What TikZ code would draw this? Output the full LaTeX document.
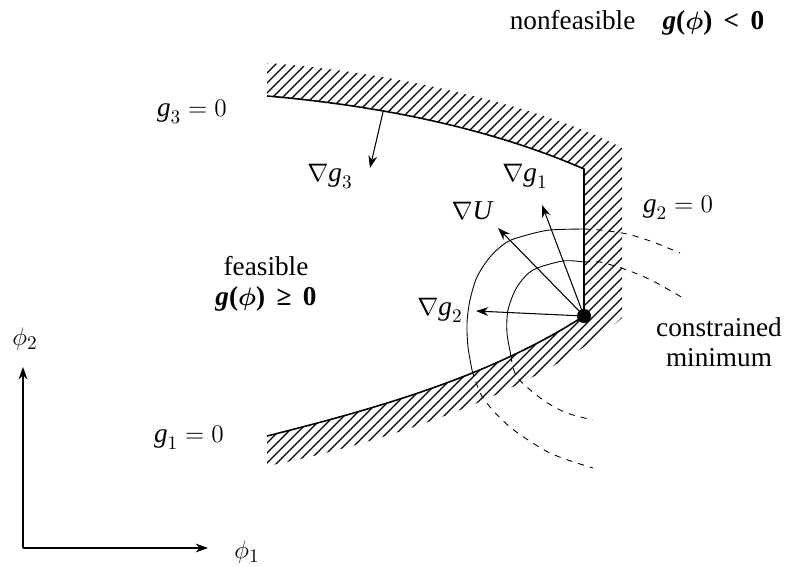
\documentclass[tikz,border=0pt]{standalone}
\usepackage{amsmath}
\usepackage{fontspec}
\setmainfont{Liberation Serif}
\usetikzlibrary{arrows.meta}

\begin{document}
\begin{tikzpicture}[x=0.02cm,y=-0.02cm,font=\fontsize{15.5}{17}\selectfont,>={Stealth[length=7pt,width=5pt]},
  rand/.style={line width=0.9pt},
  schraffur/.style={line width=0.65pt},
  pfeil/.style={->,line width=0.6pt},
  niveau/.style={line width=0.5pt},
  niveaustr/.style={line width=0.5pt,dash pattern=on 3.5pt off 3.5pt}]
\useasboundingbox (0,0) rectangle (791,566);
% Schraffur (unzulaessiger Bereich)
\begin{scope}
\clip (267,96) .. controls (397,107) and (504,134) .. (584,169) -- (584,316)
  .. controls (494,374) and (387,406) .. (267,436) -- (267,466)
  .. controls (390,442) and (540,390) .. (622,318) -- (622,148)
  .. controls (552,110) and (400,72) .. (267,63) -- cycle;
\foreach \a in {-180,-170,...,630}{\draw[schraffur] (\a,480) -- ++(440,-440);}
\end{scope}
% Raender g3, g2, g1
\draw[rand] (267,96) .. controls (397,107) and (504,134) .. (584,169) -- (584,316);
\draw[rand] (584,316) .. controls (494,374) and (387,406) .. (267,436);
% Hoehenlinien von U
\draw[niveau] plot[smooth] coordinates {(584,229) (550,230) (527,235) (507,242) (490,257) (477,277) (470,300) (467,323) (468,347) (472,370)};
\draw[niveaustr] plot[smooth] coordinates {(584,229) (600,230) (627,234) (653,242) (680,253)};
\draw[niveaustr] plot[smooth] coordinates {(472,370) (483,398) (510,427) (550,453) (593,468)};
\draw[niveau] plot[smooth] coordinates {(584,262) (563,261) (533,270) (517,287) (508,310) (507,333) (511,356)};
\draw[niveaustr] plot[smooth] coordinates {(584,262) (600,262) (627,270) (653,281) (683,298)};
\draw[niveaustr] plot[smooth] coordinates {(511,356) (517,377) (543,400) (567,413) (593,420)};
% Minimum und Gradienten
\node[circle,fill,inner sep=0pt,minimum size=8pt] (min) at (584,316) {};
\coordinate (tg1) at (542,205);
\coordinate (tU) at (498,228);
\coordinate (tg2) at (476,311);
\coordinate (fg3) at (383,112);
\coordinate (tg3) at (370,168);
\draw[pfeil] (min.center) -- (tg1);
\draw[pfeil] (min.center) -- (tU);
\draw[pfeil] (min.center) -- (tg2);
\draw[pfeil] (fg3) -- (tg3);
\node (lg1) at (525,176) {$\nabla\textit{g}_1$};
\node (lU) at (472,211) {$\nabla\textit{U}$};
\node (lg2) at (440,310) {$\nabla\textit{g}_2$};
\node (lg3) at (330,176) {$\nabla\textit{g}_3$};
% Beschriftungen
\node (nf) at (637,23) {nonfeasible\quad\textbf{\textit{g}(}$\boldsymbol{\phi}$\textbf{)\, <\, 0}};
\node (g3) at (192,112) {$\textit{g}_3 = 0$};
\node (g2) at (678,208) {$\textit{g}_2 = 0$};
\node (g1) at (189,438) {$\textit{g}_1 = 0$};
\node[align=center] (fe) at (266,284) {feasible\\\textbf{\textit{g}(}$\boldsymbol{\phi}$\textbf{)\, ≥\, 0}};
\node[align=center] (cm) at (719,342) {constrained\\minimum};
% Achsen
\coordinate (O) at (23,548);
\coordinate (ye) at (23,367);
\coordinate (xe) at (208,548);
\draw[pfeil] (O) -- (ye);
\draw[pfeil] (O) -- (xe);
\node (p2) at (25,339) {$\phi_2$};
\node (p1) at (247,552) {$\phi_1$};
\end{tikzpicture}
\end{document}
